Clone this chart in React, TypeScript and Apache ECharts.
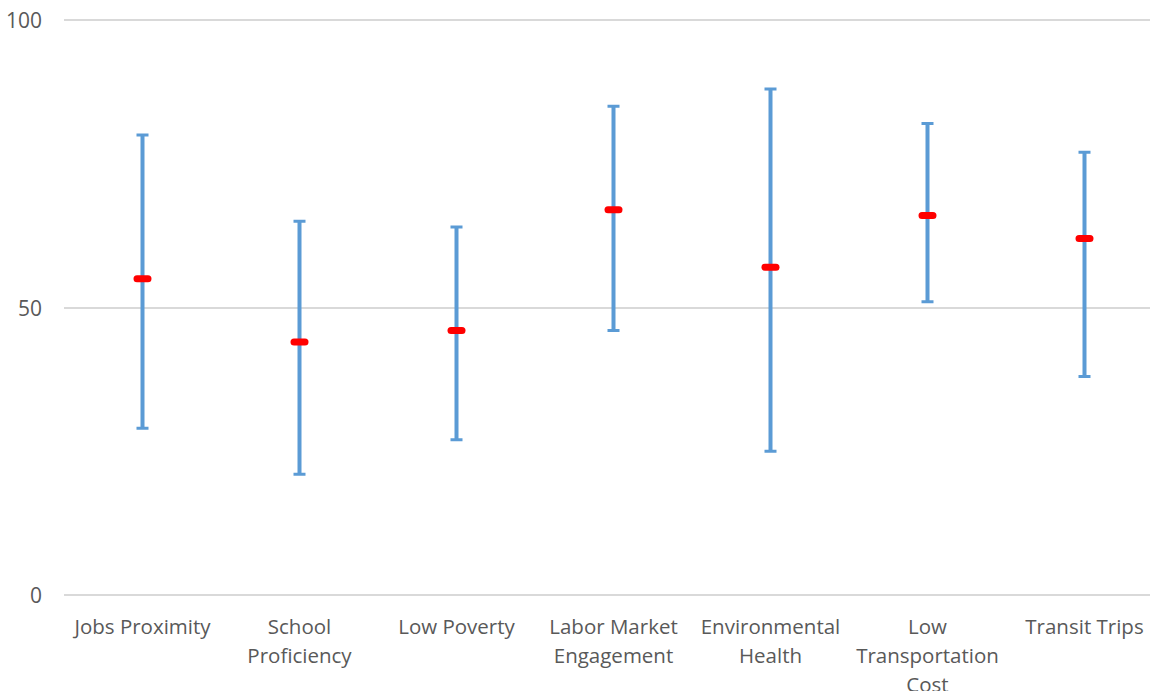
import React, { useEffect, useRef } from "react";
import * as echarts from "echarts";

const categories = [
  "Jobs Proximity",
  "School\nProficiency",
  "Low Poverty",
  "Labor Market\nEngagement",
  "Environmental\nHealth",
  "Low\nTransportation\nCost",
  "Transit Trips",
];
const lowValues = [29, 21, 27, 46, 25, 51, 38];
const highValues = [80, 65, 64, 85, 88, 82, 77];
const midValues = [55, 44, 46, 67, 57, 66, 62];
const yTicks = [0, 50, 100];

export default function App() {
  const ref = useRef<HTMLDivElement>(null);
  useEffect(() => {
    if (!ref.current) return;
    const chart = echarts.init(ref.current, null, { renderer: "svg" });
    const data = categories.map((_, i) => [i, lowValues[i], highValues[i], midValues[i]]);
    chart.setOption({
      animation: false,
      grid: { left: 64, right: -13, top: 20, bottom: 96, outerBoundsMode: "none", containLabel: false },
      xAxis: {
        type: "category",
        data: categories,
        axisLine: { show: false },
        axisTick: { show: false },
        axisLabel: {
          interval: 0,
          color: "#595959",
          fontFamily: "Open Sans",
          fontSize: 20.5,
          lineHeight: 29,
          margin: 16,
        },
        splitLine: { show: false },
      },
      yAxis: {
        type: "value",
        min: yTicks[0],
        max: yTicks[yTicks.length - 1],
        interval: 50,
        axisLine: { show: false },
        axisTick: { show: false },
        axisLabel: {
          color: "#595959",
          fontFamily: "Open Sans",
          fontSize: 21,
          margin: 22,
        },
        splitLine: { lineStyle: { color: "#d9d9d9", width: 2 } },
      },
      series: [
        {
          type: "custom",
          data,
          renderItem: (params: any, api: any) => {
            const x = api.value(0);
            const lo = api.coord([x, api.value(1)]);
            const hi = api.coord([x, api.value(2)]);
            const mid = api.coord([x, api.value(3)]);
            const cx = lo[0];
            const blue = "#5B9BD5";
            return {
              type: "group",
              children: [
                {
                  type: "line",
                  shape: { x1: cx, y1: hi[1], x2: cx, y2: lo[1] },
                  style: { stroke: blue, lineWidth: 4 },
                },
                {
                  type: "line",
                  shape: { x1: cx - 6, y1: hi[1], x2: cx + 6, y2: hi[1] },
                  style: { stroke: blue, lineWidth: 3 },
                },
                {
                  type: "line",
                  shape: { x1: cx - 6, y1: lo[1], x2: cx + 6, y2: lo[1] },
                  style: { stroke: blue, lineWidth: 3 },
                },
                {
                  type: "rect",
                  shape: { x: cx - 9, y: mid[1] - 3.5, width: 18, height: 7, r: 3.5 },
                  style: { fill: "#FF0000" },
                },
              ],
            };
          },
        },
      ],
    });
    return () => chart.dispose();
  }, []);
  return (
    <div
      ref={ref}
      style={{ position: "fixed", left: 0, top: 0, width: 1150, height: 691, background: "#fff" }}
    />
  );
}
